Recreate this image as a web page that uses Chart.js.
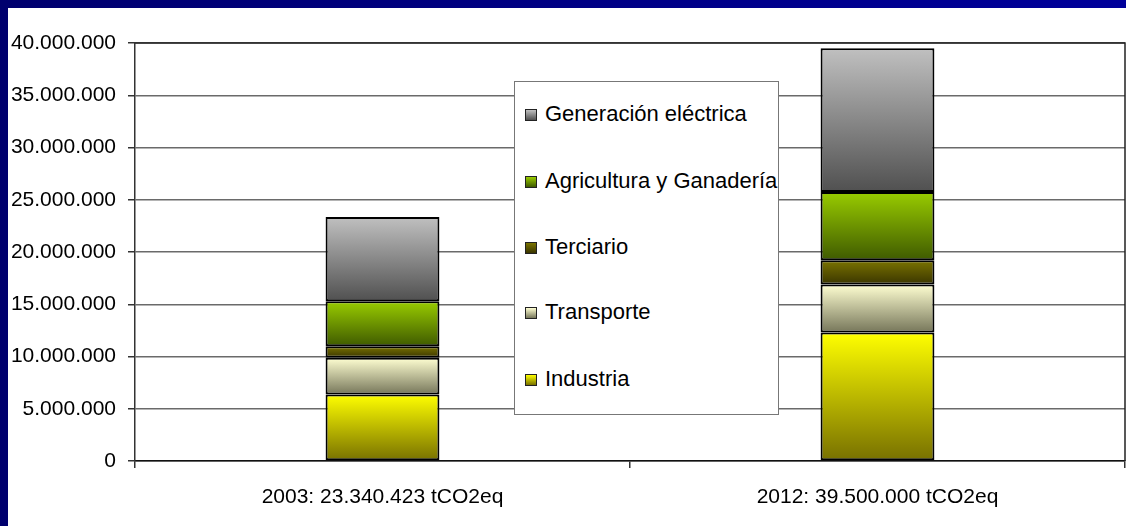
<!DOCTYPE html>
<html>
<head>
<meta charset="utf-8">
<script src="https://cdn.jsdelivr.net/npm/chart.js@4/dist/chart.umd.min.js"></script>
<style>
  html, body { margin: 0; padding: 0; }
  body { width: 1126px; height: 526px; background: linear-gradient(90deg, #00006e, #00009a); position: relative; overflow: hidden; }
  #panel { position: absolute; left: 8px; top: 8px; width: 1118px; height: 518px; background: #fff; }
  #chart { position: absolute; left: 0; top: 0; }
  #legend {
    position: absolute; left: 506px; top: 73px; width: 265px; height: 334px;
    background: #fff; border: 1px solid #777; box-sizing: border-box;
    font-family: "Liberation Sans", Arial, sans-serif; font-size: 22px; color: #000;
  }
  .lg-row { position: absolute; left: 10px; height: 24px; line-height: 24px; white-space: nowrap; }
  .lg-sw { display: inline-block; width: 10px; height: 10px; border: 1px solid #222; margin-right: 8px; vertical-align: 0px; }
</style>
</head>
<body>
<div id="panel">
  <canvas id="chart" width="1118" height="518"></canvas>
  <div id="legend"></div>
</div>
<script>
// categories and series (tCO2eq)
const categories = ['2003: 23.340.423 tCO2eq', '2012: 39.500.000 tCO2eq'];
const industria   = [6370000, 12300000];
const transporte  = [3500000, 4600000];
const terciario   = [1120000, 2300000];
const agricultura = [4300000, 6550000];
const generacion  = [8050423, 13750000];
const yTicks = [0, 5000000, 10000000, 15000000, 20000000, 25000000, 30000000, 35000000, 40000000];

const series = [
  { label: 'Industria', data: industria, top: '#ffff00', bottom: '#777000' },
  { label: 'Transporte', data: transporte, top: '#ffffd2', bottom: '#76765a' },
  { label: 'Terciario', data: terciario, top: '#7a7300', bottom: '#3a3500' },
  { label: 'Agricultura y Ganadería', data: agricultura, top: '#99cc00', bottom: '#3f5a00' },
  { label: 'Generación eléctrica', data: generacion, top: '#c0c0c0', bottom: '#505050' }
];

function fmt(v) {
  return String(v).replace(/\B(?=(\d{3})+(?!\d))/g, '.');
}

function segFill(c) {
  const s = series[c.datasetIndex];
  const chart = c.chart;
  if (!chart.chartArea || c.type !== 'data') return s.bottom;
  let base = 0;
  for (let k = 0; k < c.datasetIndex; k++) base += series[k].data[c.dataIndex];
  const y = chart.scales.y;
  const y0 = y.getPixelForValue(base + s.data[c.dataIndex]);
  const y1 = y.getPixelForValue(base);
  const g = chart.ctx.createLinearGradient(0, y0, 0, y1);
  g.addColorStop(0, s.top);
  g.addColorStop(1, s.bottom);
  return g;
}

const frame = {
  id: 'frame',
  afterDraw(chart) {
    const a = chart.chartArea, ctx = chart.ctx;
    ctx.save();
    ctx.strokeStyle = '#222';
    ctx.lineWidth = 1.5;
    ctx.beginPath();
    ctx.moveTo(a.left, a.top);
    ctx.lineTo(a.right, a.top);
    ctx.lineTo(a.right, a.bottom);
    ctx.stroke();
    ctx.restore();
  }
};

const chart = new Chart(document.getElementById('chart'), {
  type: 'bar',
  data: {
    labels: categories,
    datasets: series.map(s => ({
      label: s.label,
      data: s.data,
      backgroundColor: segFill,
      borderColor: '#000',
      borderWidth: 2,
      borderSkipped: false,
      barPercentage: 0.23,
      categoryPercentage: 1
    }))
  },
  options: {
    responsive: false,
    animation: false,
    layout: { padding: { top: 35, right: 1, left: 0, bottom: 0 } },
    plugins: { legend: { display: false }, tooltip: { enabled: false } },
    scales: {
      x: {
        stacked: true,
        afterFit: s => { s.height = 65; },
        grid: { offset: true, drawOnChartArea: false, tickLength: 7, color: '#333', lineWidth: 1.5 },
        border: { color: '#111', width: 1.5 },
        ticks: { color: '#000', padding: 17, font: { family: '"Liberation Sans", Arial, sans-serif', size: 21 } }
      },
      y: {
        stacked: true,
        min: 0,
        max: 40000000,
        afterFit: s => { s.width = 127; },
        afterBuildTicks: s => { s.ticks = yTicks.map(v => ({ value: v })); },
        grid: { color: '#6a6a6a', lineWidth: 1.5, tickLength: 7, tickColor: '#333' },
        border: { color: '#333', width: 1.5 },
        ticks: { color: '#000', padding: 12, callback: v => fmt(v), font: { family: '"Liberation Sans", Arial, sans-serif', size: 21 } }
      }
    }
  },
  plugins: [frame]
});

// legend, reversed like the original
const legend = document.getElementById('legend');
const rowTops = [20, 87, 153, 218, 285];
series.slice().reverse().forEach((s, i) => {
  const row = document.createElement('div');
  row.className = 'lg-row';
  row.style.top = rowTops[i] + 'px';
  row.innerHTML = '<span class="lg-sw" style="background:linear-gradient(' + s.top + ',' + s.bottom + ')"></span>' + s.label;
  legend.appendChild(row);
});
</script>
</body>
</html>
